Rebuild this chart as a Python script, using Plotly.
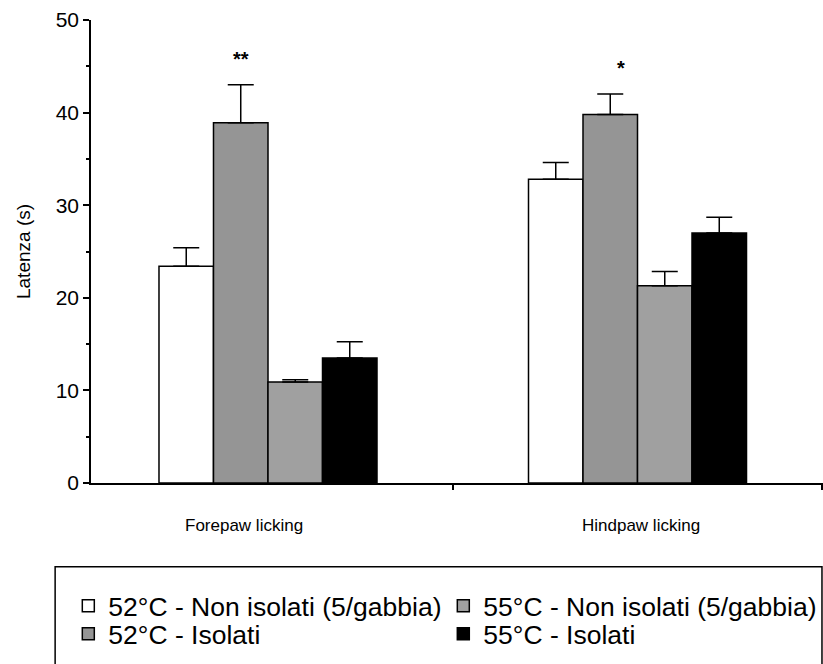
import plotly.graph_objects as go

categories = ["Forepaw licking", "Hindpaw licking"]
series_names = ["52°C - Non isolati (5/gabbia)", "52°C - Isolati",
                "55°C - Non isolati (5/gabbia)", "55°C - Isolati"]
values_52_non = [23.4, 32.8]
values_52_iso = [38.9, 39.8]
values_55_non = [10.9, 21.3]
values_55_iso = [13.5, 27.0]
err_52_non = [2.0, 1.8]
err_52_iso = [4.1, 2.2]
err_55_non = [0.25, 1.55]
err_55_iso = [1.75, 1.7]
significance = ["**", "*"]

# (name, values, errors, colour, legend row)
series = [
    (series_names[0], values_52_non, err_52_non, "#ffffff", "legend"),
    (series_names[1], values_52_iso, err_52_iso, "#959595", "legend2"),
    (series_names[2], values_55_non, err_55_non, "#a0a0a0", "legend"),
    (series_names[3], values_55_iso, err_55_iso, "#000000", "legend2"),
]

FONT = "Liberation Sans, Arial, sans-serif"

fig = go.Figure()
for name, vals, errs, color, leg in series:
    fig.add_trace(go.Bar(
        x=categories, y=vals, name=name, legend=leg,
        marker=dict(color=color, line=dict(color="black", width=1.5)),
        error_y=dict(type="data", array=errs, arrayminus=[0] * len(errs),
                     symmetric=False, color="black", thickness=1.5, width=13),
    ))

annotations = []
shifts = [-24, 3]
for i, c in enumerate(categories):
    annotations.append(dict(x=i, y=0, xref="x", yref="y", text=c, showarrow=False,
                            xshift=shifts[i], yshift=-42, yanchor="middle",
                            font=dict(family=FONT, size=17, color="black")))
bar_w = (1 - 0.41) / 4
sig_shift = [0, 11]
for i, s in enumerate(significance):
    annotations.append(dict(x=i - bar_w / 2, y=values_52_iso[i] + err_52_iso[i],
                            xref="x", yref="y", text="<b>%s</b>" % s, showarrow=False,
                            xshift=sig_shift[i], yshift=26, yanchor="middle",
                            font=dict(family=FONT, size=20, color="black")))

legend_common = dict(orientation="h", x=-0.031, xanchor="left", yanchor="middle",
                     entrywidthmode="pixels", entrywidth=330,
                     font=dict(family=FONT, size=26.5, color="black"),
                     bgcolor="rgba(0,0,0,0)", borderwidth=0, traceorder="normal")

fig.update_layout(
    width=823, height=664,
    margin=dict(l=91, r=0, t=20, b=181),
    paper_bgcolor="white", plot_bgcolor="white",
    barmode="group", bargap=0.41, bargroupgap=0,
    font=dict(family=FONT, color="black"),
    showlegend=True,
    legend=dict(y=-0.2657, **legend_common),
    legend2=dict(y=-0.3261, **legend_common),
    annotations=annotations,
    shapes=[dict(type="rect", xref="paper", yref="paper",
                 x0=-0.049, x1=0.9986, y0=-0.181, y1=-0.42,
                 line=dict(color="black", width=1.5))],
)
fig.update_xaxes(type="category", range=[-0.479, 1.502], showline=True,
                 linecolor="black", linewidth=1.5, ticks="outside", tickson="boundaries",
                 ticklen=5, tickcolor="black", tickwidth=1.5, showticklabels=False,
                 showgrid=False, zeroline=False)
fig.update_yaxes(range=[0, 50], tick0=0, dtick=10, showline=True, linecolor="black",
                 linewidth=1.5, ticks="outside", ticklen=6, tickcolor="black", tickwidth=1.5,
                 minor=dict(dtick=5, ticks="outside", ticklen=3, tickcolor="black", tickwidth=1.5),
                 showgrid=False, zeroline=False,
                 tickfont=dict(family=FONT, size=21, color="black"),
                 title=dict(text="Latenza (s)", standoff=20,
                            font=dict(family=FONT, size=19, color="black")))

fig.write_html("out.html", config={"displayModeBar": False},
               post_script="document.body.style.margin='0';document.body.style.overflow='hidden';")
